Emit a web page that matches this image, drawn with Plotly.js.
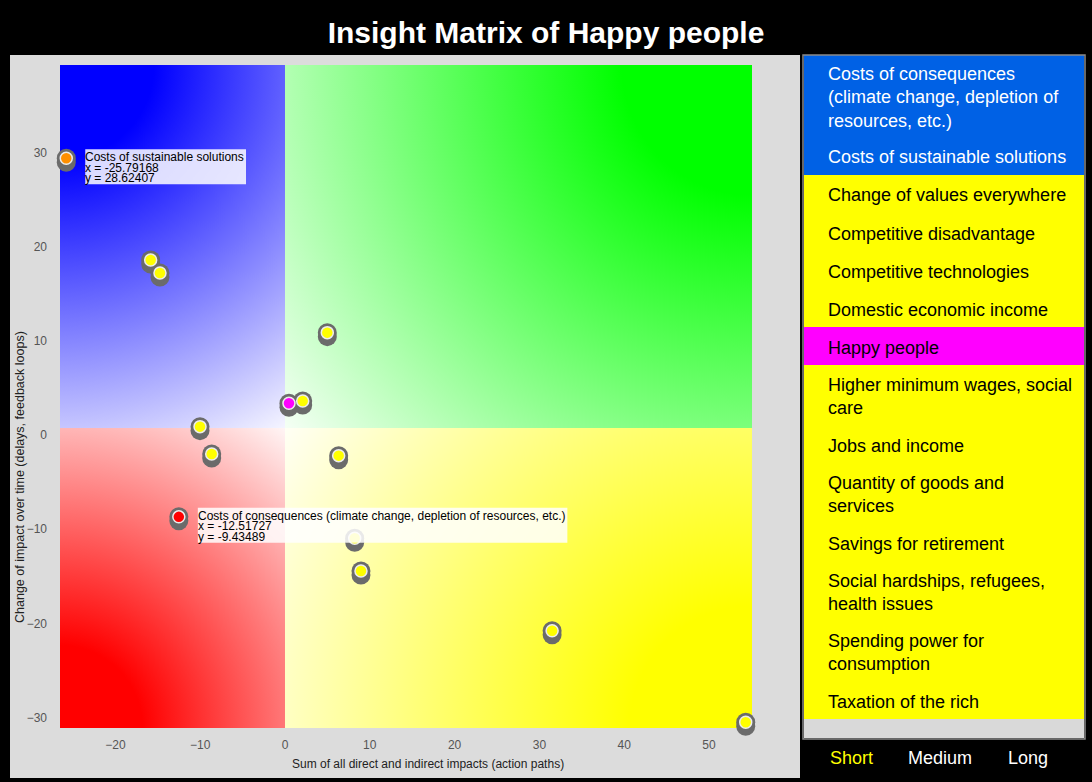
<!DOCTYPE html>
<html>
<head>
<meta charset="utf-8">
<script src="https://cdn.plot.ly/plotly-3.0.1.min.js"></script>
<style>
html,body{margin:0;padding:0;background:#000;}
#chart{width:1092px;height:782px;}
</style>
</head>
<body>
<div id="chart"></div>
<script>
// ---------------- DATA ----------------
const chartTitle = "Insight Matrix of Happy people";
const xTitle = "Sum of all direct and indirect impacts (action paths)";
const yTitle = "Change of impact over time (delays, feedback loops)";

const names = [
  "Costs of consequences (climate change, depletion of resources, etc.)",
  "Costs of sustainable solutions",
  "Change of values everywhere",
  "Competitive disadvantage",
  "Competitive technologies",
  "Domestic economic income",
  "Happy people",
  "Higher minimum wages, social care",
  "Jobs and income",
  "Quantity of goods and services",
  "Savings for retirement",
  "Social hardships, refugees, health issues",
  "Spending power for consumption",
  "Taxation of the rich"
];
const legendLabels = [
  "Costs of consequences<br>(climate change, depletion of<br>resources, etc.)",
  "Costs of sustainable solutions",
  "Change of values everywhere",
  "Competitive disadvantage",
  "Competitive technologies",
  "Domestic economic income",
  "Happy people",
  "Higher minimum wages, social<br>care",
  "Jobs and income",
  "Quantity of goods and<br>services",
  "Savings for retirement",
  "Social hardships, refugees,<br>health issues",
  "Spending power for<br>consumption",
  "Taxation of the rich"
];
const groups = ["cost","cost","factor","factor","factor","factor","focus",
                "factor","factor","factor","factor","factor","factor","factor"];
const xValues = [-12.51727, -25.79168, 4.99, -15.84, -14.74, 8.22, 0.47,
                 31.5, 2.09, 8.96, -8.64, -10.02, 6.33, 54.33];
const yValues = [-9.43489, 28.62407, 10.12, 17.83, 16.45, -11.71, 2.62,
                 -21.52, 2.87, -15.18, -2.76, 0.14, -2.94, -31.24];
const labelledPoints = ["Costs of sustainable solutions",
  "Costs of consequences (climate change, depletion of resources, etc.)"];
const xTickValues = [-20, -10, 0, 10, 20, 30, 40, 50];
const yTickValues = [-30, -20, -10, 0, 10, 20, 30];
const xRange = [-26.53, 55.07];
const yRange = [-31.85, 38.53];
const timeButtons = ["Short", "Medium", "Long"];
const activeButton = "Short";

// ---------------- STYLE / LAYOUT ----------------
const FIG_W = 1092, FIG_H = 782;
const M = {l: 60, r: 340, t: 65, b: 54};
const PW = FIG_W - M.l - M.r, PH = FIG_H - M.t - M.b;
const X = px => (px - M.l) / PW;
const Y = py => (FIG_H - M.b - py) / PH;
const FONT = '"Liberation Sans", Arial, Helvetica, sans-serif';

const pointColors = {
  "Costs of consequences (climate change, depletion of resources, etc.)": "#ff0000",
  "Costs of sustainable solutions": "#ff8f00",
  "Happy people": "#ff00ff"
};
const defaultPointColor = "#ffff00";
const groupStyle = {
  cost:   {fill: "#0061e5", text: "#ffffff"},
  factor: {fill: "#ffff00", text: "#000000"},
  focus:  {fill: "#ff00ff", text: "#000000"}
};

function quadrantImage() {
  const c = document.createElement('canvas');
  c.width = PW; c.height = PH;
  const g = c.getContext('2d');
  const ox = Math.round(PW * (0 - xRange[0]) / (xRange[1] - xRange[0]));
  const oy = Math.round(PH * (yRange[1] - 0) / (yRange[1] - yRange[0]));
  const quads = [
    {x0: 0,  y0: 0,  x1: ox, y1: oy, cx: 0,  cy: 0,  rgb: [0, 0, 255]},
    {x0: ox, y0: 0,  x1: PW, y1: oy, cx: PW, cy: 0,  rgb: [0, 255, 0]},
    {x0: 0,  y0: oy, x1: ox, y1: PH, cx: 0,  cy: PH, rgb: [255, 0, 0]},
    {x0: ox, y0: oy, x1: PW, y1: PH, cx: PW, cy: PH, rgb: [255, 255, 0]}
  ];
  quads.forEach(q => {
    const R = Math.hypot(q.cx - ox, q.cy - oy);
    const grad = g.createRadialGradient(q.cx, q.cy, 0, q.cx, q.cy, R);
    const mix = t => 'rgb(' + q.rgb.map(v => Math.round(255 - (255 - v) * t)).join(',') + ')';
    grad.addColorStop(0, mix(1));
    grad.addColorStop(0.22, mix(1));
    grad.addColorStop(1, mix(0.04));
    g.fillStyle = grad;
    g.fillRect(q.x0, q.y0, q.x1 - q.x0, q.y1 - q.y0);
  });
  return c.toDataURL();
}
function solidImage(color) {
  const c = document.createElement('canvas');
  c.width = 2; c.height = 2;
  const g = c.getContext('2d');
  g.fillStyle = color; g.fillRect(0, 0, 2, 2);
  return c.toDataURL();
}
function measure(text, size) {
  const c = document.createElement('canvas').getContext('2d');
  c.font = size + 'px "Liberation Sans", Arial, sans-serif';
  return c.measureText(text).width;
}

const dy = 4 * (yRange[1] - yRange[0]) / PH;
const markerColors = names.map(n => pointColors[n] || defaultPointColor);

const traces = [
  {type: 'scatter', mode: 'markers', x: xValues, y: yValues.map(v => v - dy),
   marker: {size: 19, color: '#6b6b6b'}, hoverinfo: 'skip', cliponaxis: false, showlegend: false},
  {type: 'scatter', mode: 'markers', x: xValues, y: yValues,
   marker: {size: 19, color: '#6b6b6b'}, hoverinfo: 'skip', cliponaxis: false, showlegend: false},
  {type: 'scatter', mode: 'markers', x: xValues, y: yValues, text: names,
   marker: {size: 12, color: markerColors, line: {color: '#ececec', width: 1.5}},
   hovertemplate: '%{text}<br>x = %{x}<br>y = %{y}<extra></extra>',
   cliponaxis: false, showlegend: false}
];

const shapes = [];
const annotations = [];

// tooltip-like boxes
labelledPoints.forEach(name => {
  const i = names.indexOf(name);
  const w = measure(name, 12) + 2;
  shapes.push({type: 'rect', layer: 'above', xref: 'x', yref: 'y',
    xsizemode: 'pixel', ysizemode: 'pixel', xanchor: xValues[i], yanchor: yValues[i],
    x0: 19, x1: 19 + w, y0: -26, y1: 9,
    fillcolor: 'rgba(255,255,255,0.85)', line: {width: 0}});
  [name, 'x = ' + xValues[i].toFixed(5), 'y = ' + yValues[i].toFixed(5)].forEach((t, k) => {
    annotations.push({xref: 'x', yref: 'y', x: xValues[i], y: yValues[i],
      xanchor: 'left', yanchor: 'middle', xshift: 19, yshift: 1 - 10.5 * k,
      text: t, showarrow: false, borderpad: 0, borderwidth: 0,
      font: {family: FONT, size: 12, color: '#000'}});
  });
});

// legend panel
let legendTop = 55;
legendLabels.forEach((lab, i) => {
  const lines = lab.split('<br>').length;
  const h = 38 + 22 * (lines - 1);
  const st = groupStyle[groups[i]];
  shapes.push({type: 'rect', layer: 'below', xref: 'paper', yref: 'paper',
    x0: X(804), x1: X(1084), y0: Y(legendTop + h), y1: Y(legendTop),
    fillcolor: st.fill, line: {width: 0}});
  annotations.push({xref: 'paper', yref: 'paper', x: X(828), y: Y(legendTop + h / 2 + 1.5),
    xanchor: 'left', yanchor: 'middle', align: 'left', text: lab, showarrow: false,
    borderpad: 0, borderwidth: 0, font: {family: FONT, size: 18, color: st.text}});
  legendTop += h;
});
shapes.push({type: 'rect', layer: 'below', xref: 'paper', yref: 'paper',
  x0: X(804), x1: X(1084), y0: Y(738), y1: Y(legendTop), fillcolor: '#d9d9d9', line: {width: 0}});
shapes.push({type: 'rect', layer: 'above', xref: 'paper', yref: 'paper',
  x0: X(803), x1: X(1085), y0: Y(739), y1: Y(55), fillcolor: 'rgba(0,0,0,0)',
  line: {color: '#8a8a8a', width: 1.5}});

// time buttons
const buttonX = [851, 940, 1028];
timeButtons.forEach((b, i) => {
  annotations.push({xref: 'paper', yref: 'paper', x: X(buttonX[i]), y: Y(758),
    xanchor: 'center', yanchor: 'middle', text: b, showarrow: false,
    font: {family: FONT, size: 18, color: b === activeButton ? '#ffff00' : '#ffffff'}});
});

// axis titles
annotations.push({xref: 'paper', yref: 'paper', x: X(20), y: Y(477),
  xanchor: 'center', yanchor: 'middle', textangle: -90, text: yTitle, showarrow: false,
  font: {family: FONT, size: 12.5, color: '#222'}});
annotations.push({xref: 'paper', yref: 'paper', x: X(428), y: Y(764),
  xanchor: 'center', yanchor: 'middle', text: xTitle, showarrow: false,
  font: {family: FONT, size: 12, color: '#222'}});

const layout = {
  width: FIG_W, height: FIG_H,
  margin: M,
  paper_bgcolor: '#000000',
  plot_bgcolor: 'rgba(0,0,0,0)',
  showlegend: false,
  title: {text: chartTitle, font: {family: FONT, size: 30, color: '#ffffff', weight: 700},
    x: 0.5, xref: 'container', xanchor: 'center', y: 1 - 32 / FIG_H, yref: 'container', yanchor: 'middle'},
  xaxis: {range: xRange, tickvals: xTickValues, showgrid: false, zeroline: false, showline: false,
    ticks: '', automargin: false, fixedrange: true, ticklabelstandoff: 8,
    tickfont: {family: FONT, size: 12, color: '#555'}},
  yaxis: {range: yRange, tickvals: yTickValues, showgrid: false, zeroline: false, showline: false,
    ticks: '', automargin: false, fixedrange: true, ticklabelstandoff: 12, ticklabelshift: 7,
    tickfont: {family: FONT, size: 12, color: '#555'}},
  images: [
    {source: solidImage('#dcdcdc'), xref: 'paper', yref: 'paper', x: X(10), y: Y(55),
     sizex: 790 / PW, sizey: 723 / PH, xanchor: 'left', yanchor: 'top', sizing: 'stretch', layer: 'below'},
    {source: quadrantImage(), xref: 'x', yref: 'y', x: xRange[0], y: yRange[1],
     sizex: xRange[1] - xRange[0], sizey: yRange[1] - yRange[0],
     xanchor: 'left', yanchor: 'top', sizing: 'stretch', layer: 'below'}
  ],
  shapes: shapes,
  annotations: annotations
};

Plotly.newPlot('chart', traces, layout, {displayModeBar: false});
</script>
</body>
</html>
